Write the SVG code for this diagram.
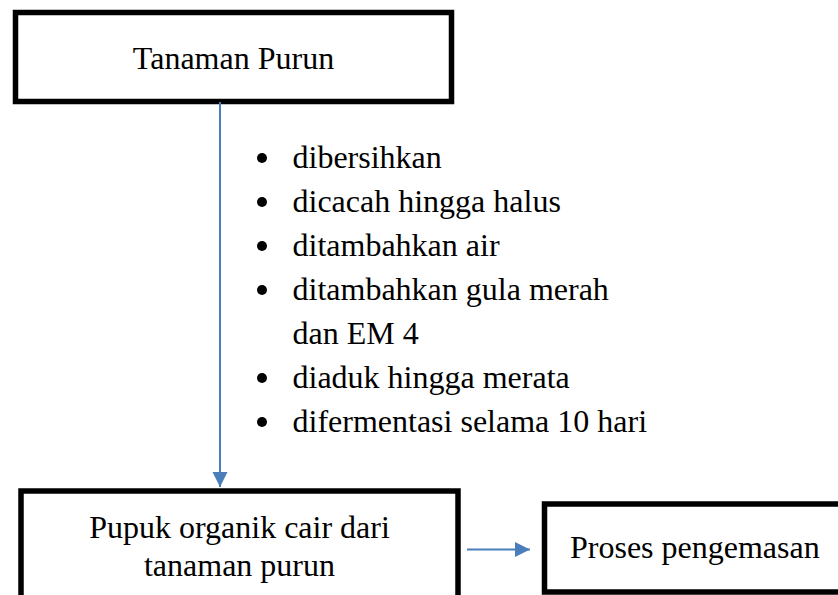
<svg xmlns="http://www.w3.org/2000/svg" width="838" height="595" viewBox="0 0 838 595">
<style>
.box{fill:#fff;stroke:#000;stroke-width:5.5}
.t{font-family:"Liberation Serif","Times New Roman",serif;font-size:32px;fill:#000}
.c{text-anchor:middle}
.conn{stroke:#4A7EBB;stroke-width:2;fill:none}
</style>
<defs>
<marker id="ah" markerUnits="userSpaceOnUse" markerWidth="16" markerHeight="16" refX="15" refY="7.5" orient="auto">
<path d="M0,0 L15,7.5 L0,15 Z" fill="#4A7EBB"/>
</marker>
</defs>
<rect width="838" height="595" fill="#fff"/>
<g id="n1">
<rect class="box" x="15.5" y="12.5" width="436" height="89"/>
<text class="t c" x="233.5" y="69">Tanaman Purun</text>
</g>
<g id="steps">
<circle cx="262" cy="158" r="5"/>
<circle cx="262" cy="202" r="5"/>
<circle cx="262" cy="246" r="5"/>
<circle cx="262" cy="290" r="5"/>
<circle cx="262" cy="378" r="5"/>
<circle cx="262" cy="422" r="5"/>
<text class="t" x="292.5" y="168">dibersihkan</text>
<text class="t" x="292.5" y="212">dicacah hingga halus</text>
<text class="t" x="292.5" y="256">ditambahkan air</text>
<text class="t" x="292.5" y="300">ditambahkan gula merah</text>
<text class="t" x="292.5" y="344">dan EM 4</text>
<text class="t" x="292.5" y="388">diaduk hingga merata</text>
<text class="t" x="292.5" y="432">difermentasi selama 10 hari</text>
</g>
<g id="n2">
<rect class="box" x="21" y="491" width="437" height="130"/>
<text class="t c" x="239.5" y="538">Pupuk organik cair dari</text>
<text class="t c" x="239.5" y="576">tanaman purun</text>
</g>
<g id="n3">
<rect class="box" x="544.5" y="504" width="320" height="88"/>
<text class="t" x="570" y="558">Proses pengemasan</text>
</g>
<g id="connectors">
<line class="conn" x1="220" y1="102" x2="220" y2="487" marker-end="url(#ah)"/>
<line class="conn" x1="467" y1="549.5" x2="530" y2="549.5" marker-end="url(#ah)"/>
</g>
</svg>
